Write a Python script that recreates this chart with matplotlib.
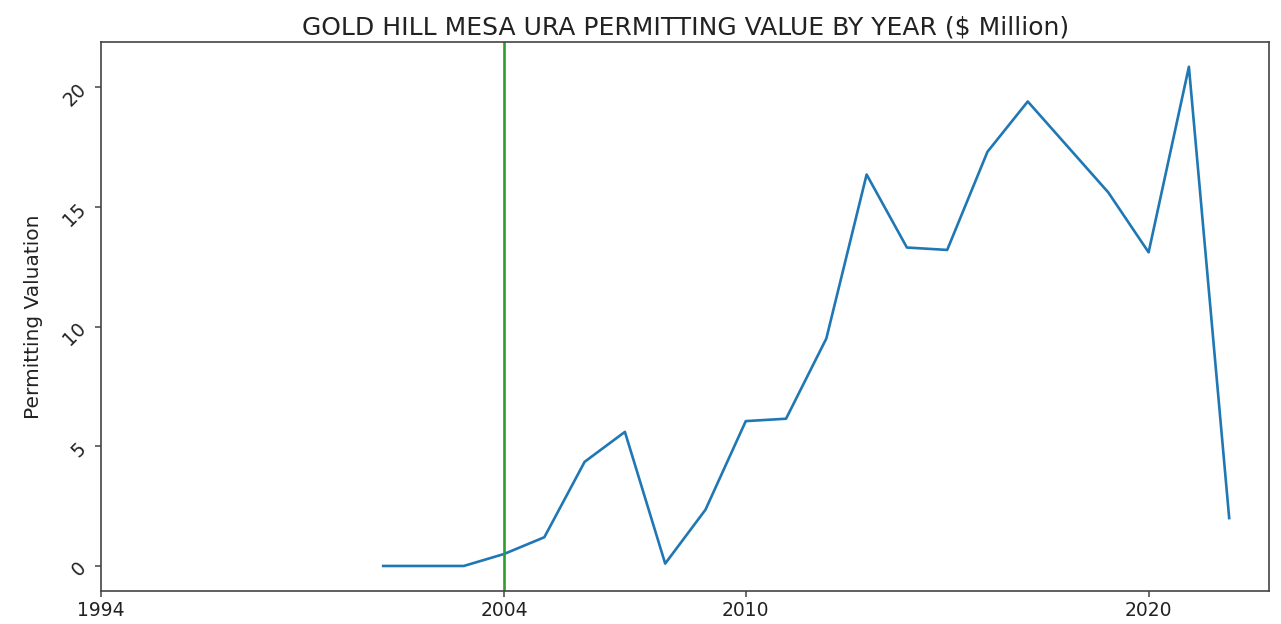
import matplotlib
matplotlib.use("Agg")
import matplotlib.pyplot as plt

# permitting value by year, $ million
years = [2001, 2002, 2003, 2004, 2005, 2006, 2007, 2008, 2009, 2010, 2011,
         2012, 2013, 2014, 2015, 2016, 2017, 2018, 2019, 2020, 2021, 2022]
values = [0.0, 0.0, 0.0, 0.5, 1.2, 4.35, 5.6, 0.1, 2.35, 6.05, 6.15,
          9.5, 16.35, 13.3, 13.2, 17.3, 19.4, 17.5, 15.6, 13.1, 20.85, 2.0]
xtick_years = [1994, 2004, 2010, 2020]
marker_year = 2004

fig = plt.figure(figsize=(12.81, 6.24), dpi=100)
ax = fig.add_axes([0.079, 0.053, 0.912, 0.880])

ax.plot(years, values, color='#1f77b4', linewidth=1.9)
ax.axvline(marker_year, color='#2ca02c', linewidth=1.9)

ax.set_xlim(1994, 2023)
ax.set_xticks(xtick_years)
ax.set_xticklabels([str(y) for y in xtick_years], fontsize=13.5, color='#222222')
ax.tick_params(axis='both', length=4.5, width=1.1, color='#444444')
ax.tick_params(axis='y', labelrotation=45, labelsize=13.5, labelcolor='#222222')
ax.tick_params(axis='x', pad=3)
for s in ax.spines.values():
    s.set_linewidth(1.2)
    s.set_color('#444444')
ax.set_ylabel('Permitting Valuation', fontsize=14.5, labelpad=12, color='#222222')
ax.set_title('GOLD HILL MESA URA PERMITTING VALUE BY YEAR ($ Million)', fontsize=18, pad=5,
             color='#222222')

fig.savefig('out.png', dpi=100)
